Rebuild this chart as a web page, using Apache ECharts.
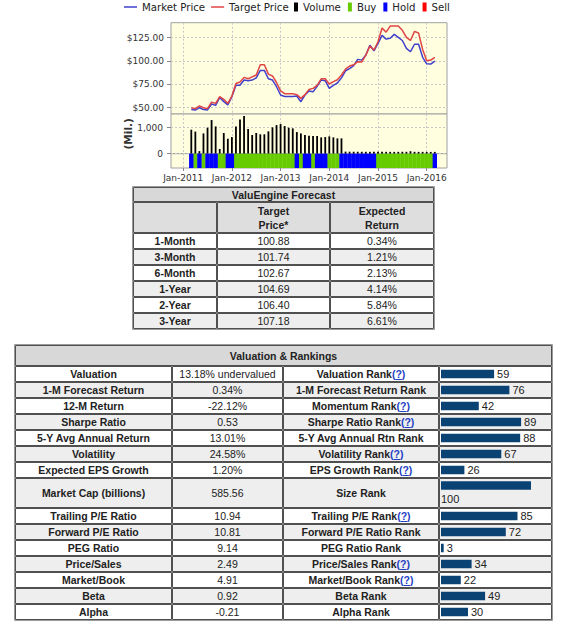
<!DOCTYPE html>
<html>
<head>
<meta charset="utf-8">
<script src="https://cdn.jsdelivr.net/npm/echarts@6/dist/echarts.min.js"></script>
<style>
html,body{margin:0;padding:0;background:#ffffff;}
#chart{width:561px;height:624px;}
</style>
</head>
<body>
<div id="chart"></div>
<script>
// ---------- DATA ----------
const monthLabels = [
  'Oct-2010','Nov-2010','Dec-2010',
  'Jan-2011','Feb-2011','Mar-2011','Apr-2011','May-2011','Jun-2011','Jul-2011','Aug-2011','Sep-2011','Oct-2011','Nov-2011','Dec-2011',
  'Jan-2012','Feb-2012','Mar-2012','Apr-2012','May-2012','Jun-2012','Jul-2012','Aug-2012','Sep-2012','Oct-2012','Nov-2012','Dec-2012',
  'Jan-2013','Feb-2013','Mar-2013','Apr-2013','May-2013','Jun-2013','Jul-2013','Aug-2013','Sep-2013','Oct-2013','Nov-2013','Dec-2013',
  'Jan-2014','Feb-2014','Mar-2014','Apr-2014','May-2014','Jun-2014','Jul-2014','Aug-2014','Sep-2014','Oct-2014','Nov-2014','Dec-2014',
  'Jan-2015','Feb-2015','Mar-2015','Apr-2015','May-2015','Jun-2015','Jul-2015','Aug-2015','Sep-2015','Oct-2015','Nov-2015','Dec-2015',
  'Jan-2016','Feb-2016','Mar-2016','Apr-2016','May-2016','Jun-2016'
];
// monthly values, Mar-2011 .. Mar-2016
const marketPrice = [
  48, 47.5, 50, 48, 47.6, 54, 52.5, 61, 56.5, 53,
  61.8, 74, 74, 79.6, 79, 79.6, 82, 90, 90, 81,
  79.6, 72.5, 63.6, 62, 62, 62, 62.5, 56.4, 63.6, 68,
  67, 73, 79.6, 79, 70.7, 74, 76.5, 82, 89.6, 91.8,
  95, 101.8, 101, 106.4, 117, 111, 119, 127.5, 123.5, 124.5,
  128.6, 125.4, 122, 113.6, 110, 118, 117.9, 104, 97, 96.8,
  100
];
const targetPrice = [
  50, 49, 52, 50, 49, 56, 54.6, 62, 59, 54.6,
  62.5, 76, 77.5, 82.5, 81, 83, 85, 96, 96, 86,
  84, 77, 68, 65, 65, 65, 64, 60, 64, 69.6,
  70.7, 74, 81, 81, 75.4, 78, 80, 85, 91.4, 94.6,
  96, 99.3, 99, 106.4, 116, 111.8, 120.7, 135.5, 131, 137.5,
  137.5, 137.5, 133, 125.4, 122, 131.8, 130, 112.5, 100.4, 101,
  104
];
const volumeMil = [
  923, 850, 100, 780, 1000, 1295, 1050, 180, 795, 577,
  640, 1050, 1320, 1450, 950, 720, 795, 745, 745, 860,
  1013, 1100, 1140, 1064, 1000, 975, 833, 780, 718, 692,
  680, 680, 628, 640, 667, 628, 590, 590, 80, 78,
  76, 75, 74, 73, 72, 74, 75, 73, 72, 71,
  70, 72, 74, 73, 95, 72, 70, 71, 70, 69,
  70
];
const ratings = [
  'Hold','Buy','Hold','Buy','Hold','Hold','Hold','Buy','Buy','Hold','Hold',
  'Buy','Buy','Buy','Buy','Buy','Buy','Buy','Buy','Buy','Buy','Buy','Buy','Buy','Buy','Buy',
  'Hold','Buy','Hold','Hold','Buy','Hold','Hold','Hold','Buy','Buy','Buy',
  'Hold','Hold','Hold','Hold','Hold','Hold','Hold','Hold','Hold',
  'Buy','Buy','Buy','Buy','Buy','Buy','Buy','Buy','Buy','Buy','Buy','Buy','Buy','Buy',
  'Hold'
];
const priceTicks = [50, 75, 100, 125];
const volumeTicks = [0, 1000];

const forecastPeriods = ['1-Month','3-Month','6-Month','1-Year','2-Year','3-Year'];
const forecastTargets = ['100.88','101.74','102.67','104.69','106.40','107.18'];
const forecastReturns = ['0.34%','1.21%','2.13%','4.14%','5.84%','6.61%'];

const valuationLabels = ['Valuation','1-M Forecast Return','12-M Return','Sharpe Ratio','5-Y Avg Annual Return','Volatility','Expected EPS Growth','Market Cap (billions)','Trailing P/E Ratio','Forward P/E Ratio','PEG Ratio','Price/Sales','Market/Book','Beta','Alpha'];
const valuationValues = ['13.18% undervalued','0.34%','-22.12%','0.53','13.01%','24.58%','1.20%','585.56','10.94','10.81','9.14','2.49','4.91','0.92','-0.21'];
const rankLabels = ['Valuation Rank(?)','1-M Forecast Return Rank','Momentum Rank(?)','Sharpe Ratio Rank(?)','5-Y Avg Annual Rtn Rank','Volatility Rank(?)','EPS Growth Rank(?)','Size Rank','Trailing P/E Rank(?)','Forward P/E Ratio Rank','PEG Ratio Rank','Price/Sales Rank(?)','Market/Book Rank(?)','Beta Rank','Alpha Rank'];
const rankValues = [59, 76, 42, 89, 88, 67, 26, 100, 85, 72, 3, 34, 22, 49, 30];

// ---------- LAYOUT / STYLE ----------
const dataMonths = monthLabels.slice(monthLabels.indexOf('Mar-2011'), monthLabels.indexOf('Mar-2016') + 1);
const pair = arr => arr.map((v, i) => [dataMonths[i], v]);
const ratingData = name => ratings.map((r, i) => [dataMonths[i], r === name ? 1 : '-']);
const isJan = (idx, val) => String(val).indexOf('Jan') === 0;

const PLOT_L = 171, PLOT_W = 276;
const CHART_FONT = 'DejaVu Sans';
const TABLE_FONT = 'Liberation Sans';
const PLOT_BG = '#FFFFE0';
const BORDER = '#A0A0A0';
const GRIDLINE = { type: [2, 2], color: '#C8C8C8', width: 1 };
const LINE_ICON = 'path://M0,0 L26,0 L26,3 L0,3 Z';

function catAxis(gridIndex, showLabels) {
  return {
    type: 'category', gridIndex, data: monthLabels, boundaryGap: false,
    axisLine: { show: false },
    axisTick: { show: showLabels, interval: isJan, length: 3, lineStyle: { color: '#888' } },
    axisLabel: { show: showLabels, interval: isJan, fontSize: 9, color: '#333', fontFamily: CHART_FONT, margin: 5 },
    splitLine: { show: true, interval: isJan, lineStyle: GRIDLINE }
  };
}

// ---------- TABLE GRAPHICS ----------
const G = [];
const measureCtx = document.createElement('canvas').getContext('2d');
function textWidth(s, bold) {
  measureCtx.font = (bold ? 'bold ' : '') + '10.5px "' + TABLE_FONT + '"';
  return measureCtx.measureText(s).width;
}
function cell(x0, y0, x1, y1, fill) {
  G.push({ type: 'rect', silent: true, z: 0,
    shape: { x: x0 + 0.5, y: y0 + 0.5, width: x1 - x0 - 1, height: y1 - y0 - 1 },
    style: { fill, stroke: '#505050', lineWidth: 1 } });
}
function outer(x0, y0, x1, y1) {
  G.push({ type: 'rect', silent: true, z: 0,
    shape: { x: x0 - 0.5, y: y0 - 0.5, width: x1 - x0 + 1, height: y1 - y0 + 1 },
    style: { fill: 'none', stroke: '#9a9a9a', lineWidth: 1 } });
}
function txt(cx, cy, text, bold, extra) {
  const st = { text, fill: '#222', fontSize: 10.5, fontWeight: bold ? 'bold' : 'normal',
    fontFamily: TABLE_FONT, align: 'center', verticalAlign: 'middle' };
  Object.assign(st, extra || {});
  G.push({ type: 'text', silent: true, z: 1, x: cx, y: cy, style: st });
}
const LINK = '#1f3fc4';
function linkTxt(cx, cy, label) {
  const i = label.indexOf('(?)');
  if (i < 0) { txt(cx, cy, label, true); return; }
  txt(cx, cy, label.slice(0, i) + '{q|(?)}', true, {
    rich: { q: { fill: LINK, fontSize: 10.5, fontWeight: 'bold', fontFamily: TABLE_FONT } }
  });
  // underline under the "?" link
  const total = textWidth(label, true);
  const qx = cx - total / 2 + textWidth(label.slice(0, i + 1), true);
  const qw = textWidth('?', true);
  const uy = Math.round(cy + 5) + 0.5;
  G.push({ type: 'line', silent: true, z: 1,
    shape: { x1: qx, y1: uy, x2: qx + qw, y2: uy },
    style: { stroke: LINK, lineWidth: 1 } });
}
const HEAD = '#D8D8D8', ALT = '#EEEEEE', WHITE = '#FFFFFF';

// Forecast table
const fx = [133, 217, 330, 434];
const fy = [187, 202, 233, 249, 265, 281, 297, 313, 329];
outer(fx[0], fy[0], fx[3], fy[fy.length - 1]);
cell(fx[0], fy[0], fx[3], fy[1], HEAD);
txt((fx[0] + fx[3]) / 2, (fy[0] + fy[1]) / 2, 'ValuEngine Forecast', true);
for (let c = 0; c < 3; c++) cell(fx[c], fy[1], fx[c + 1], fy[2], '#DEDEDE');
txt((fx[1] + fx[2]) / 2, (fy[1] + fy[2]) / 2, 'Target\nPrice*', true, { lineHeight: 14 });
txt((fx[2] + fx[3]) / 2, (fy[1] + fy[2]) / 2, 'Expected\nReturn', true, { lineHeight: 14 });
forecastPeriods.forEach((p, r) => {
  const y0 = fy[r + 2], y1 = fy[r + 3], bg = r % 2 ? ALT : WHITE;
  for (let c = 0; c < 3; c++) cell(fx[c], y0, fx[c + 1], y1, bg);
  const cy = (y0 + y1) / 2;
  txt((fx[0] + fx[1]) / 2, cy, p, true);
  txt((fx[1] + fx[2]) / 2, cy, forecastTargets[r], false);
  txt((fx[2] + fx[3]) / 2, cy, forecastReturns[r], false);
});

// Valuation table
const vx = [15, 172, 283, 439, 552];
const vy = [345, 366, 382, 398, 414, 430, 446, 462, 478, 508, 524, 540, 556, 572, 588, 604, 620];
outer(vx[0], vy[0], vx[4], vy[vy.length - 1]);
cell(vx[0], vy[0], vx[4], vy[1], HEAD);
txt((vx[0] + vx[4]) / 2, (vy[0] + vy[1]) / 2, 'Valuation & Rankings', true);
valuationLabels.forEach((lab, r) => {
  const y0 = vy[r + 1], y1 = vy[r + 2], bg = r % 2 ? ALT : WHITE;
  for (let c = 0; c < 4; c++) cell(vx[c], y0, vx[c + 1], y1, bg);
  const cy = (y0 + y1) / 2;
  txt((vx[0] + vx[1]) / 2, cy, lab, true);
  txt((vx[1] + vx[2]) / 2, cy, valuationValues[r], false);
  linkTxt((vx[2] + vx[3]) / 2, cy, rankLabels[r]);
});

// rank bars split into groups matching table row blocks
const groups = [[0, 7], [7, 8], [8, 15]];
const rankGrids = [
  { left: 441, width: 90, top: 366, height: 112 },
  { left: 441, width: 90, top: 481, height: 9 },
  { left: 441, width: 90, top: 508, height: 112 }
];

const rankBarColor = '#0A4373';
const rankLabelStyle = { show: true, position: 'right', distance: 3, fontSize: 11, color: '#222', fontFamily: TABLE_FONT };

const option = {
  animation: false,
  textStyle: { fontFamily: CHART_FONT },
  legend: [
    { data: [{ name: 'Market Price', icon: LINE_ICON }, { name: 'Target Price', icon: LINE_ICON }],
      left: 124, top: 2, padding: 0, symbolKeepAspect: true,
      itemWidth: 13, itemHeight: 8, itemGap: 6,
      textStyle: { fontSize: 10.2, color: '#222', fontFamily: CHART_FONT } },
    { data: ['Volume', 'Buy', 'Hold', 'Sell'], left: 294, top: 2, padding: 0, icon: 'rect',
      itemWidth: 4, itemHeight: 9, itemGap: 7,
      textStyle: { fontSize: 10.2, color: '#222', fontFamily: CHART_FONT } }
  ],
  grid: [
    { left: PLOT_L, width: PLOT_W, top: 22.7, height: 91.3, show: true, backgroundColor: PLOT_BG, borderColor: BORDER, borderWidth: 1 },
    { left: PLOT_L, width: PLOT_W, top: 114, height: 39.7, show: true, backgroundColor: PLOT_BG, borderColor: BORDER, borderWidth: 1 },
    { left: PLOT_L, width: PLOT_W, top: 153.7, height: 14.3, show: true, backgroundColor: PLOT_BG, borderColor: BORDER, borderWidth: 1 }
  ].concat(rankGrids),
  xAxis: [
    catAxis(0, false), catAxis(1, false), catAxis(2, true)
  ].concat(groups.map((g, i) => ({ type: 'value', gridIndex: 3 + i, min: 0, max: 100, show: false }))),
  yAxis: [
    { type: 'value', gridIndex: 0, min: 43.25, max: 141.1,
      axisLine: { show: false },
      axisTick: { show: true, length: 4, customValues: priceTicks, lineStyle: { color: '#888' } },
      axisLabel: { customValues: priceTicks, formatter: v => '$' + Number(v).toFixed(2), fontSize: 9, color: '#333', fontFamily: CHART_FONT, margin: 7 },
      splitLine: { show: true, lineStyle: GRIDLINE } },
    { type: 'value', gridIndex: 1, min: 0, max: 1527,
      name: '(Mil.)', nameLocation: 'middle', nameGap: 26, nameRotate: 90,
      nameTextStyle: { fontSize: 10.5, fontWeight: 'bold', color: '#333', fontFamily: CHART_FONT },
      axisLine: { show: false },
      axisTick: { show: true, length: 4, customValues: volumeTicks, lineStyle: { color: '#888' } },
      axisLabel: { customValues: volumeTicks, formatter: v => Number(v).toLocaleString('en-US'), fontSize: 9, color: '#333', fontFamily: CHART_FONT, margin: 8 },
      splitLine: { show: true, lineStyle: GRIDLINE } },
    { type: 'value', gridIndex: 2, min: 0, max: 1, show: false }
  ].concat(groups.map((g, i) => ({ type: 'category', gridIndex: 3 + i, inverse: true,
      data: rankLabels.slice(g[0], g[1]), show: false }))),
  series: [
    { name: 'Market Price', type: 'line', xAxisIndex: 0, yAxisIndex: 0, data: pair(marketPrice),
      symbol: 'none', color: '#4040CC', lineStyle: { width: 1.5, color: '#4040CC' }, z: 3 },
    { name: 'Target Price', type: 'line', xAxisIndex: 0, yAxisIndex: 0, data: pair(targetPrice),
      symbol: 'none', color: '#E04444', lineStyle: { width: 1.5, color: '#E04444' }, z: 4 },
    { name: 'Volume', type: 'bar', xAxisIndex: 1, yAxisIndex: 1, data: pair(volumeMil),
      barWidth: 1.8, color: '#000000', itemStyle: { color: '#000000' } },
    { name: 'Buy', type: 'bar', xAxisIndex: 2, yAxisIndex: 2, stack: 'rating', data: ratingData('Buy'),
      barWidth: 4.4, color: '#66CC00', itemStyle: { color: '#66CC00' } },
    { name: 'Hold', type: 'bar', xAxisIndex: 2, yAxisIndex: 2, stack: 'rating', data: ratingData('Hold'),
      barWidth: 4.4, color: '#0000FF', itemStyle: { color: '#0000FF' } },
    { name: 'Sell', type: 'bar', xAxisIndex: 2, yAxisIndex: 2, stack: 'rating', data: ratingData('Sell'),
      barWidth: 4.4, color: '#FF0000', itemStyle: { color: '#FF0000' } }
  ].concat(groups.map((g, i) => ({
      name: 'rank' + i, type: 'bar', xAxisIndex: 3 + i, yAxisIndex: 3 + i, z: 5,
      data: rankValues.slice(g[0], g[1]), barWidth: 8.5,
      itemStyle: { color: rankBarColor },
      label: i === 1 ? Object.assign({}, rankLabelStyle, { position: [0, 12.5] }) : rankLabelStyle
  }))),
  graphic: { elements: G }
};

const chart = echarts.init(document.getElementById('chart'), null, { renderer: 'svg' });
chart.setOption(option);
</script>
</body>
</html>
